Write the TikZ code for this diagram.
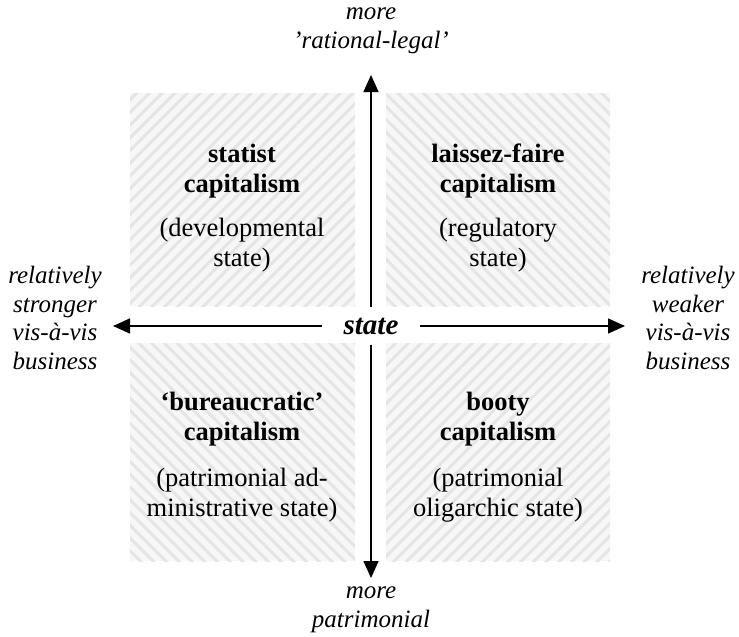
\documentclass[tikz,border=0pt]{standalone}
\usepackage{fontspec}
\setmainfont{Liberation Serif}
\usetikzlibrary{arrows.meta,patterns.meta}
\tikzset{
  quad/.style={fill=gray!6},
  hatchne/.style={pattern={Lines[angle=45,distance=9pt,line width=3pt]},pattern color=gray!20},
  hatchnw/.style={pattern={Lines[angle=-45,distance=9pt,line width=3pt]},pattern color=gray!20},
  txt/.style={align=center,inner sep=0pt,font=\fontsize{26.5}{29.5}\selectfont},
  lbl/.style={align=center,inner sep=0pt,font=\fontsize{25}{28.5}\selectfont\itshape},
  axis/.style={line width=1.4pt,-{Triangle[length=17pt,width=15pt]}}
}
\begin{document}
\begin{tikzpicture}[x=1pt,y=-1pt]
    \useasboundingbox (0,0) rectangle (739,637);
    % quadrants
    \fill[quad] (130,93) rectangle (355,306);   \fill[hatchne] (130,93) rectangle (355,306);
    \fill[quad] (386,93) rectangle (610,306);   \fill[hatchnw] (386,93) rectangle (610,306);
    \fill[quad] (130,343) rectangle (355,561);  \fill[hatchnw] (130,343) rectangle (355,561);
    \fill[quad] (386,343) rectangle (610,561);  \fill[hatchne] (386,343) rectangle (610,561);
    % quadrant texts
    \node[txt] (tl-title) at (242,171) {\textbf{statist}\\\textbf{capitalism}};
    \node[txt] (tl-sub)   at (242,245) {(developmental\\state)};
    \node[txt] (tr-title) at (498,171) {\textbf{laissez-faire}\\\textbf{capitalism}};
    \node[txt] (tr-sub)   at (498,245) {(regulatory\\state)};
    \node[txt] (bl-title) at (242,419) {\textbf{`bureaucratic'}\\\textbf{capitalism}};
    \node[txt] (bl-sub)   at (242,495) {(patrimonial ad-\\ministrative state)};
    \node[txt] (br-title) at (498,419) {\textbf{booty}\\\textbf{capitalism}};
    \node[txt] (br-sub)   at (498,495) {(patrimonial\\oligarchic state)};
    % axes
    \node[txt,font=\fontsize{29}{32}\selectfont,minimum width=98pt,minimum height=37pt] (state) at (371,326) {\textbf{\itshape state}};
    \coordinate (top) at (371,75);
    \coordinate (bottom) at (371,578);
    \coordinate (left) at (113,326);
    \coordinate (right) at (625,326);
    \draw[axis] (state.north) -- (top);
    \draw[axis] (state.south) -- (bottom);
    \draw[axis] (state.west) -- (left);
    \draw[axis] (state.east) -- (right);
    % axis labels
    \node[lbl] (top-label) at (371,31) {more\\'rational-legal'};
    \node[lbl] (bottom-label) at (371,610) {more\\patrimonial};
    \node[lbl] (left-label) at (55,318) {relatively\\stronger\\vis-à-vis\\business};
    \node[lbl] (right-label) at (688,318) {relatively\\weaker\\vis-à-vis\\business};
\end{tikzpicture}
\end{document}
